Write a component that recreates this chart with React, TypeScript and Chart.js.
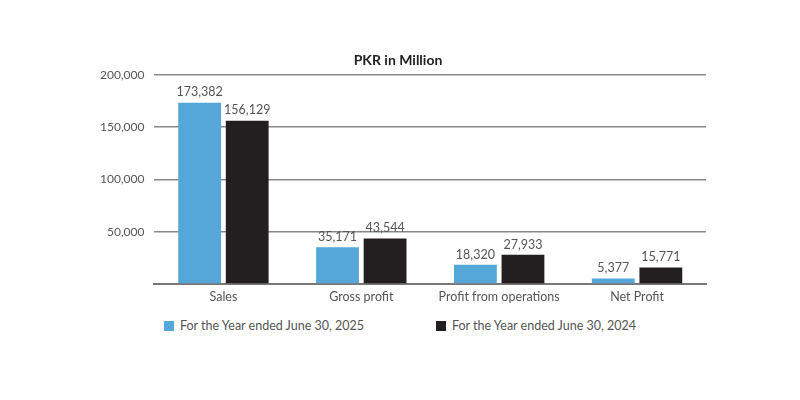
import React, { useEffect, useRef } from "react";
import { Chart, registerables } from "chart.js";

Chart.register(...registerables);

const categories = ["Sales", "Gross profit", "Profit from operations", "Net Profit"];
const series2025 = [173382, 35171, 18320, 5377];
const series2024 = [156129, 43544, 27933, 15771];
const seriesLabels = ["For the Year ended June 30, 2025", "For the Year ended June 30, 2024"];
const seriesColors = ["#55A6D9", "#231F20"];
const yTicks = [0, 50000, 100000, 150000, 200000];

const FONT = "Lato, 'Open Sans', sans-serif";

const valueLabels = {
  id: "valueLabels",
  afterDatasetsDraw(chart: any) {
    const ctx = chart.ctx;
    ctx.save();
    ctx.font = `12.5px ${FONT}`;
    ctx.fillStyle = "#555";
    ctx.textAlign = "center";
    ctx.textBaseline = "bottom";
    chart.data.datasets.forEach((ds: any, i: number) => {
      const meta = chart.getDatasetMeta(i);
      meta.data.forEach((bar: any, j: number) => {
        ctx.fillText(Number(ds.data[j]).toLocaleString("en-US"), bar.x, bar.y - 4);
      });
    });
    ctx.restore();
  },
};

export default function App() {
  const ref = useRef<HTMLCanvasElement>(null);
  useEffect(() => {
    if (!ref.current) return;
    const chart = new Chart(ref.current, {
      type: "bar",
      data: {
        labels: categories,
        datasets: seriesLabels.map((label, i) => ({
          label,
          data: i === 0 ? series2025 : series2024,
          backgroundColor: seriesColors[i],
          barPercentage: 0.9,
          categoryPercentage: 0.69,
        })),
      },
      options: {
        animation: false,
        responsive: true,
        maintainAspectRatio: false,
        layout: { padding: { left: 82, right: 86, top: 4, bottom: 4 } },
        plugins: {
          title: {
            display: true,
            text: "PKR in Million",
            color: "#222",
            font: { family: FONT, size: 14, weight: "bold" },
            padding: { top: 40, bottom: 6 },
          },
          legend: { display: false },
          tooltip: { enabled: false },
        },
        scales: {
          x: {
            grid: { display: false, drawTicks: false },
            border: { display: true, color: "#777", width: 2 },
            ticks: { color: "#555", font: { family: FONT, size: 12.5 }, padding: 5 },
          },
          y: {
            min: 0,
            max: 200000,
            afterBuildTicks: (axis: any) => {
              axis.ticks = yTicks.map((v) => ({ value: v }));
            },
            grid: { color: "#888", lineWidth: 1.5, drawTicks: false },
            border: { display: false },
            ticks: {
              color: "#555",
              font: { family: FONT, size: 12 },
              padding: 10,
              callback: (v: any) => (v === 0 ? "" : Number(v).toLocaleString("en-US")),
            },
          },
        },
      },
      plugins: [valueLabels],
    });
    return () => chart.destroy();
  }, []);
  return (
    <div style={{ width: 784 }}>
      <div style={{ width: 784, height: 305, position: "relative" }}>
        <canvas ref={ref} />
      </div>
      <div
        style={{
          display: "flex",
          justifyContent: "center",
          gap: 72,
          marginTop: 5,
          fontFamily: FONT,
          fontSize: 12.5,
          color: "#555",
        }}
      >
        {seriesLabels.map((label, i) => (
          <div key={label} style={{ display: "flex", alignItems: "center" }}>
            <span style={{ display: "inline-block", width: 10, height: 10, background: seriesColors[i], marginRight: 6 }} />
            <span>{label}</span>
          </div>
        ))}
      </div>
    </div>
  );
}
